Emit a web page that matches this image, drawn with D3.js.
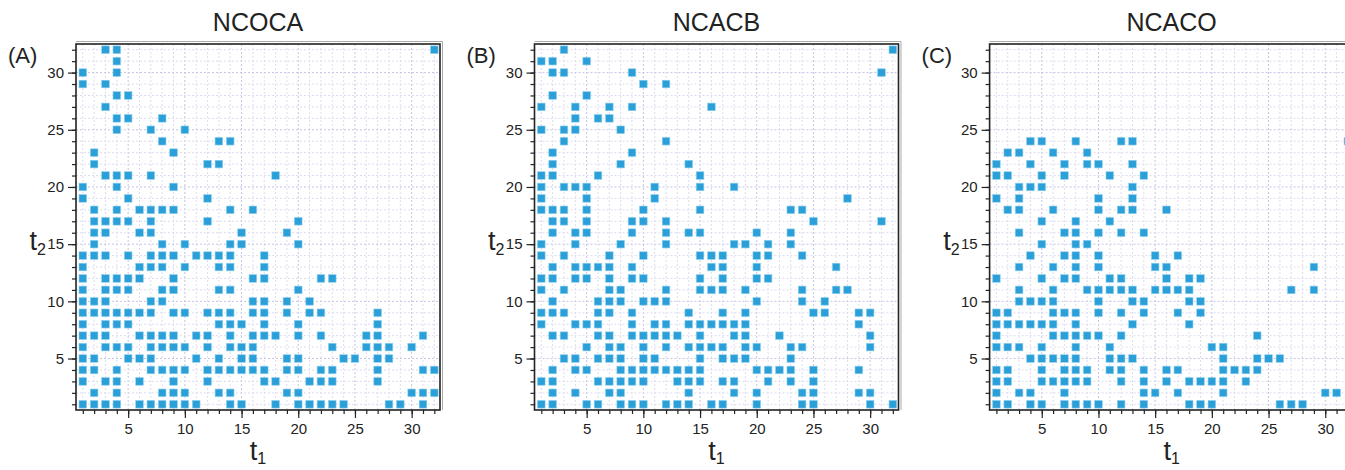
<!DOCTYPE html>
<html>
<head>
<meta charset="utf-8">
<script src="https://cdn.jsdelivr.net/npm/d3@7"></script>
<style>
  body { margin: 0; background: #fff; }
  svg { display: block; font-family: "Liberation Sans", Arial, sans-serif; }
</style>
</head>
<body>
<svg id="chart" width="1345" height="470"></svg>
<script>
// Panel titles and letters
const panelTitles = ["NCOCA", "NCACB", "NCACO"];
const panelLetters = ["(A)", "(B)", "(C)"];
// Labelled ticks on both axes
const tickValues = [5, 10, 15, 20, 25, 30];
const gridValues = d3.range(1, 33);

// Occupied cells per panel: [t2, [t1 values]]
const ncocaRows = [
  [32, [3, 4, 32]],
  [31, [4]],
  [30, [1, 4]],
  [29, [1, 3]],
  [28, [4, 5]],
  [27, [3]],
  [26, [4, 5, 8]],
  [25, [4, 7, 10]],
  [24, [8, 13, 14]],
  [23, [2, 9]],
  [22, [2, 12, 13]],
  [21, [3, 4, 5, 7, 18]],
  [20, [1, 4, 9]],
  [19, [1, 5, 12]],
  [18, [2, 4, 6, 7, 8, 9, 14, 16]],
  [17, [2, 3, 4, 5, 7, 12, 20]],
  [16, [2, 3, 6, 7, 15, 19]],
  [15, [2, 8, 10, 14, 15, 20]],
  [14, [1, 2, 3, 5, 7, 8, 9, 11, 12, 13, 14, 17]],
  [13, [1, 6, 7, 8, 10, 13, 14, 17]],
  [12, [1, 3, 4, 5, 6, 9, 16, 17, 22, 23]],
  [11, [1, 3, 4, 5, 8, 9, 13, 14, 20]],
  [10, [1, 2, 3, 7, 8, 16, 17, 19, 21]],
  [9,  [1, 2, 3, 4, 5, 6, 7, 9, 10, 12, 13, 14, 16, 17, 19, 21, 22, 27]],
  [8,  [1, 3, 4, 5, 13, 14, 15, 17, 20, 27]],
  [7,  [1, 2, 3, 6, 7, 8, 9, 11, 12, 14, 16, 17, 18, 20, 22, 26, 27, 31]],
  [6,  [1, 3, 4, 5, 7, 8, 9, 10, 12, 14, 15, 16, 23, 26, 27, 28, 30]],
  [5,  [1, 2, 5, 6, 7, 11, 13, 15, 16, 19, 20, 24, 25, 27, 28]],
  [4,  [1, 2, 4, 7, 8, 9, 10, 12, 13, 14, 15, 16, 17, 19, 20, 22, 23, 27, 31, 32]],
  [3,  [1, 3, 4, 6, 9, 12, 17, 18, 21, 22, 23, 27]],
  [2,  [2, 4, 8, 9, 10, 13, 14, 19, 20, 30, 31, 32]],
  [1,  [1, 2, 3, 4, 6, 7, 8, 9, 10, 11, 14, 15, 18, 20, 21, 22, 23, 24, 28, 29, 31]]
];

const ncacbRows = [
  [32, [3, 32]],
  [31, [1, 2, 5]],
  [30, [2, 3, 9, 31]],
  [29, [10, 12]],
  [28, [2, 5]],
  [27, [1, 4, 7, 9, 16]],
  [26, [4, 6, 7]],
  [25, [1, 3, 4, 8]],
  [24, [3, 12]],
  [23, [2, 9]],
  [22, [2, 8, 14]],
  [21, [1, 2, 6, 15]],
  [20, [1, 3, 4, 5, 11, 15, 18]],
  [19, [1, 5, 11, 28]],
  [18, [1, 2, 3, 5, 10, 15, 23, 24]],
  [17, [2, 3, 5, 9, 10, 12, 25, 31]],
  [16, [2, 4, 5, 9, 12, 14, 15, 20, 23]],
  [15, [1, 4, 8, 12, 18, 19, 21, 23]],
  [14, [1, 3, 7, 10, 15, 16, 17, 20, 21, 24]],
  [13, [2, 4, 5, 6, 7, 9, 16, 17, 20, 27]],
  [12, [1, 2, 4, 5, 7, 9, 10, 15, 17, 20, 21]],
  [11, [1, 3, 7, 8, 12, 15, 16, 17, 19, 24, 27, 28]],
  [10, [2, 6, 7, 8, 10, 11, 12, 20, 24, 26]],
  [9,  [1, 2, 3, 6, 7, 9, 14, 17, 19, 25, 26, 29, 30]],
  [8,  [1, 4, 5, 6, 9, 11, 12, 14, 15, 16, 17, 18, 19, 29]],
  [7,  [2, 3, 6, 7, 9, 10, 11, 12, 13, 15, 18, 19, 22, 30]],
  [6,  [5, 7, 8, 10, 12, 14, 15, 16, 17, 19, 20, 23, 24, 30]],
  [5,  [3, 4, 6, 7, 8, 10, 11, 15, 17, 18, 19, 23]],
  [4,  [2, 4, 5, 8, 9, 10, 11, 12, 13, 14, 15, 20, 21, 22, 23, 25, 29]],
  [3,  [1, 2, 6, 7, 8, 9, 10, 13, 14, 15, 17, 18, 21, 23, 25]],
  [2,  [2, 4, 7, 8, 14, 18, 20, 24, 25, 29, 30]],
  [1,  [1, 2, 5, 6, 8, 9, 10, 12, 13, 14, 16, 17, 20, 24, 25, 30, 32]]
];

const ncacoRows = [
  [24, [4, 5, 8, 12, 13, 32]],
  [23, [2, 3, 6, 9]],
  [22, [1, 4, 7, 9, 10, 13]],
  [21, [1, 2, 5, 7, 11, 14]],
  [20, [3, 4, 5, 13]],
  [19, [1, 3, 10, 13]],
  [18, [2, 3, 6, 10, 12, 13, 16]],
  [17, [5, 8, 11]],
  [16, [3, 7, 8, 10, 12, 14]],
  [15, [5, 8, 9]],
  [14, [4, 7, 8, 10, 15, 17]],
  [13, [3, 6, 8, 10, 15, 16, 29]],
  [12, [1, 5, 7, 8, 11, 12, 16, 18, 19]],
  [11, [3, 6, 9, 10, 11, 12, 13, 15, 16, 17, 18, 27, 29]],
  [10, [3, 4, 5, 6, 10, 13, 14, 18, 19]],
  [9,  [1, 2, 6, 7, 8, 10, 12, 14, 17, 19]],
  [8,  [1, 2, 3, 4, 5, 6, 8, 13, 18]],
  [7,  [1, 6, 7, 8, 9, 10, 12, 24]],
  [6,  [1, 2, 3, 5, 8, 11, 20, 21]],
  [5,  [4, 5, 6, 7, 8, 11, 12, 13, 21, 24, 25, 26]],
  [4,  [1, 2, 5, 7, 8, 9, 11, 12, 14, 16, 17, 21, 22, 23, 24]],
  [3,  [1, 2, 5, 6, 7, 8, 9, 12, 14, 16, 18, 19, 20, 21, 23]],
  [2,  [1, 3, 4, 7, 14, 15, 17, 21, 30, 31]],
  [1,  [1, 2, 4, 5, 7, 8, 9, 10, 12, 14, 18, 19, 20, 26, 27, 28]]
];

const panelRows = [ncocaRows, ncacbRows, ncacoRows];

// Layout
const panelLefts = [76, 534.5, 989.6];
const plotWidth = 364, plotTop = 44, plotBottom = 410;
const cellSize = 7.6;
const markColor = "#2a9fd8";

const svg = d3.select("#chart");

panelRows.forEach((rows, i) => {
  const L = panelLefts[i];
  const x = d3.scaleLinear().domain([0.4, 32.5]).range([L, L + plotWidth]);
  const y = d3.scaleLinear().domain([0.5, 32.5]).range([plotBottom, plotTop]);
  const cells = rows.flatMap(([t2, t1s]) => t1s.map(t1 => ({ t1, t2 })));

  const g = svg.append("g");

  // dashed grid at every integer, stronger on multiples of five
  const grid = g.append("g");
  grid.selectAll("line.v").data(gridValues).join("line")
    .attr("class", "v")
    .attr("x1", d => x(d)).attr("x2", d => x(d))
    .attr("y1", plotTop).attr("y2", plotBottom)
    .attr("stroke", d => d % 5 === 0 ? "#c3c3e6" : "#dcdcf1")
    .attr("stroke-width", 1)
    .attr("stroke-dasharray", "2,2");
  grid.selectAll("line.h").data(gridValues).join("line")
    .attr("class", "h")
    .attr("y1", d => y(d)).attr("y2", d => y(d))
    .attr("x1", L).attr("x2", L + plotWidth)
    .attr("stroke", d => d % 5 === 0 ? "#c3c3e6" : "#dcdcf1")
    .attr("stroke-width", 1)
    .attr("stroke-dasharray", "2,2");

  // occupied cells
  g.append("g").selectAll("rect").data(cells).join("rect")
    .attr("x", d => x(d.t1) - cellSize / 2)
    .attr("y", d => y(d.t2) - cellSize / 2)
    .attr("width", cellSize).attr("height", cellSize)
    .attr("fill", markColor)
    .attr("stroke", "#8fd0ef").attr("stroke-width", 0.6);

  // minor and major ticks
  const styleAxis = sel => {
    sel.select(".domain").remove();
    sel.selectAll("line").attr("stroke", "#222").attr("stroke-width", 1.2);
    sel.selectAll("text").attr("fill", "#222").attr("font-size", 15)
      .attr("font-family", "Liberation Sans, Arial, sans-serif");
  };
  g.append("g").attr("transform", `translate(0,${plotBottom})`)
    .call(d3.axisBottom(x).tickValues(gridValues).tickSize(4).tickFormat(""))
    .call(styleAxis);
  g.append("g").attr("transform", `translate(0,${plotBottom})`)
    .call(d3.axisBottom(x).tickValues(tickValues).tickSize(8).tickPadding(5))
    .call(styleAxis);
  g.append("g").attr("transform", `translate(${L},0)`)
    .call(d3.axisLeft(y).tickValues(gridValues).tickSize(4).tickFormat(""))
    .call(styleAxis);
  g.append("g").attr("transform", `translate(${L},0)`)
    .call(d3.axisLeft(y).tickValues(tickValues).tickSize(8).tickPadding(4))
    .call(styleAxis);

  // frame with a faint outer edge on top and right
  g.append("path")
    .attr("d", `M${L},${plotTop - 2.5}H${L + plotWidth + 2.5}V${plotBottom}`)
    .attr("fill", "none").attr("stroke", "#aaa").attr("stroke-width", 1);
  g.append("rect")
    .attr("x", L).attr("y", plotTop)
    .attr("width", plotWidth).attr("height", plotBottom - plotTop)
    .attr("fill", "none").attr("stroke", "#222").attr("stroke-width", 1.6);

  // title
  g.append("text")
    .attr("x", L + plotWidth / 2).attr("y", 31)
    .attr("text-anchor", "middle")
    .attr("font-size", 25).attr("fill", "#222")
    .text(panelTitles[i]);

  // panel letter
  g.append("text")
    .attr("x", L - 68).attr("y", 63)
    .attr("font-size", 22).attr("fill", "#222")
    .text(panelLetters[i]);

  // axis labels t1 and t2
  const xl = g.append("text")
    .attr("x", L + plotWidth / 2).attr("y", 460)
    .attr("text-anchor", "middle")
    .attr("font-size", 27).attr("fill", "#222");
  xl.append("tspan").text("t");
  xl.append("tspan").attr("font-size", 16).attr("dy", 4).text("1");

  const yl = g.append("text")
    .attr("x", L - 30).attr("y", 250)
    .attr("text-anchor", "end")
    .attr("font-size", 27).attr("fill", "#222");
  yl.append("tspan").text("t");
  yl.append("tspan").attr("font-size", 16).attr("dy", 5).text("2");
});
</script>
</body>
</html>
